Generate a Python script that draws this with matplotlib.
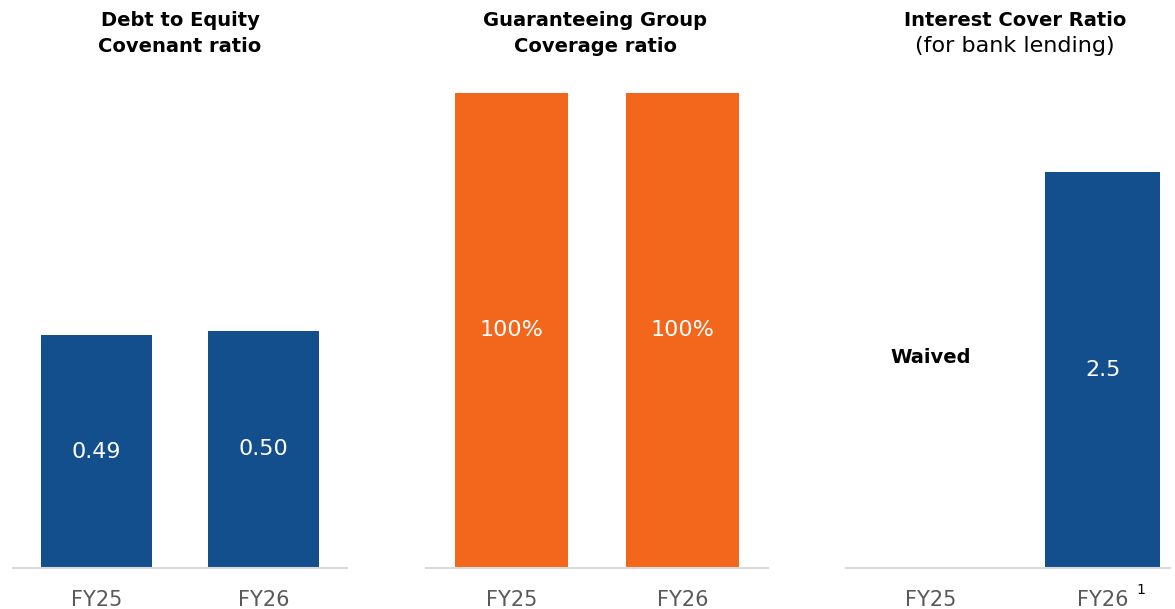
import matplotlib

matplotlib.use("agg")
import matplotlib.pyplot as plt

# covenant data
years = ["FY25", "FY26"]
debt_equity = [0.49, 0.50]
debt_equity_labels = ["0.49", "0.50"]
guarantee_cov = [100, 100]
guarantee_labels = ["100%", "100%"]
interest_cover = [None, 2.5]
interest_labels = ["Waived", "2.5"]

BLUE = "#134E8D"
ORANGE = "#F3671C"
GREY = "#595959"
W, H = 1175, 609

fig = plt.figure(figsize=(W / 100, H / 100), dpi=100)


def px_axes(x0, x1, y_top=93, y_base=568):
    return fig.add_axes([x0 / W, 1 - y_base / H, (x1 - x0) / W, (y_base - y_top) / H])


def style(ax, xlim, ylim):
    ax.set_xlim(*xlim)
    ax.set_ylim(0, ylim)
    for s in ["top", "right", "left"]:
        ax.spines[s].set_visible(False)
    ax.spines["bottom"].set_color("#D9D9D9")
    ax.spines["bottom"].set_linewidth(1.5)
    ax.set_yticks([])
    ax.set_xticks(range(len(years)))
    ax.set_xticklabels(years, fontsize=15, color=GREY)
    ax.tick_params(axis="x", length=0, pad=16)


def title(x, line1, line2, bold2=True):
    fig.text(x / W, 1 - 20 / H, line1, ha="center", va="center",
             fontsize=14, fontweight="bold", color="black")
    fig.text(x / W, 1 - 46 / H, line2, ha="center", va="center",
             fontsize=14 if bold2 else 16,
             fontweight="bold" if bold2 else "normal", color="black")


# Debt to equity
ax1 = px_axes(13, 347)
style(ax1, (-0.5, 1.5), 1.0)
ax1.bar(range(2), debt_equity, width=0.665, color=BLUE)
for i, v in enumerate(debt_equity):
    ax1.text(i, v / 2, debt_equity_labels[i], ha="center", va="center",
             fontsize=16, color="white")
title(180, "Debt to Equity", "Covenant ratio")

# Guaranteeing group coverage
ax2 = px_axes(426, 768)
style(ax2, (-0.5, 1.5), 100)
ax2.bar(range(2), guarantee_cov, width=0.66, color=ORANGE)
for i, v in enumerate(guarantee_cov):
    ax2.text(i, v / 2, guarantee_labels[i], ha="center", va="center",
             fontsize=16, color="white")
title(595, "Guaranteeing Group", "Coverage ratio")

# Interest cover ratio
ax3 = px_axes(846, 1170)
style(ax3, (-0.49, 1.39), 3.0)
ax3.bar([1], [interest_cover[1]], width=0.665, color=BLUE)
ax3.text(0, 1.33, interest_labels[0], ha="center", va="center",
         fontsize=14, fontweight="bold", color="black")
ax3.text(1, interest_cover[1] / 2, interest_labels[1], ha="center", va="center",
         fontsize=16, color="white")
title(1015, "Interest Cover Ratio", "(for bank lending)", bold2=False)
fig.text(1141 / W, 1 - 590 / H, "1", ha="center", va="center", fontsize=10, color="black")

fig.savefig("out.png", dpi=100)
